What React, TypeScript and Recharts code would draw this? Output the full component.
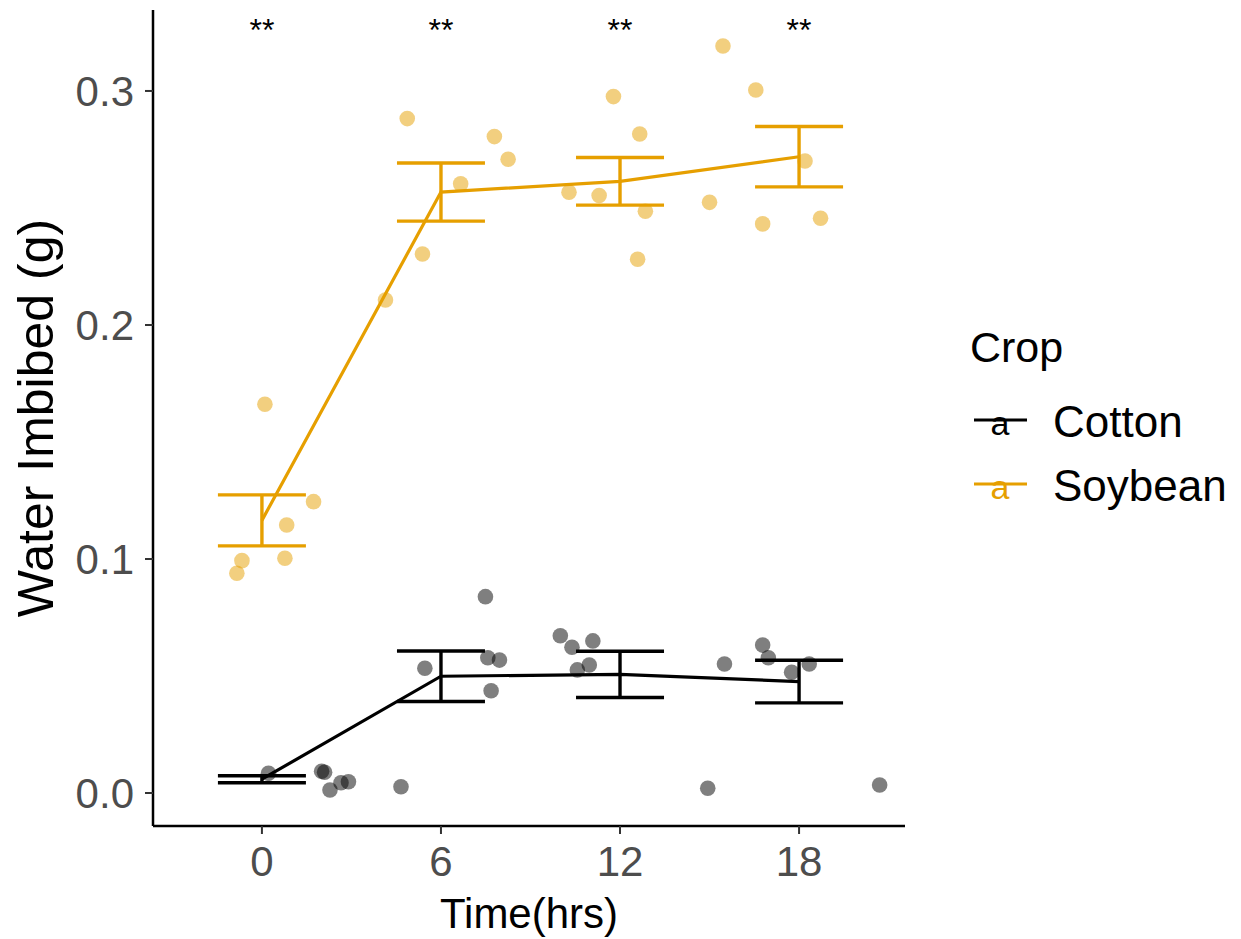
import { ComposedChart, Scatter, Line, ErrorBar, XAxis, YAxis } from "recharts";

const FONT = '"Liberation Sans", Arial, Helvetica, sans-serif';
const COTTON = "#000000";
const SOY = "#E69F00";

// sampling times and per-crop summaries (mean +/- se)
const times = [0, 6, 12, 18];
const cottonMean = [0.0059, 0.0499, 0.0507, 0.0476];
const cottonSe = [0.0015, 0.0108, 0.0099, 0.0091];
const soyMean = [0.1165, 0.2568, 0.2614, 0.2719];
const soySe = [0.0109, 0.0124, 0.0102, 0.0129];

// jittered raw observations
const cottonT = [0.22, 2.0, 2.1, 2.28, 2.65, 2.9, 4.66, 5.46, 7.49, 7.57, 7.68, 7.96, 10.0, 10.39, 10.57, 10.97, 11.09, 14.94, 15.5, 16.78, 16.97, 17.75, 18.34, 20.7];
const cottonV = [0.0084, 0.0093, 0.0089, 0.0013, 0.0044, 0.0048, 0.0027, 0.0533, 0.0839, 0.0578, 0.0437, 0.0568, 0.0672, 0.0623, 0.0526, 0.0547, 0.065, 0.002, 0.0551, 0.0632, 0.0578, 0.0516, 0.0551, 0.0034];
const soyT = [-0.84, -0.67, 0.1, 0.77, 0.83, 1.73, 4.14, 4.87, 5.38, 6.66, 7.79, 8.25, 10.29, 11.3, 11.78, 12.59, 12.66, 12.85, 15.0, 15.45, 16.55, 16.78, 18.2, 18.72];
const soyV = [0.0939, 0.0993, 0.1661, 0.1003, 0.1145, 0.1245, 0.2107, 0.2882, 0.2303, 0.2603, 0.2805, 0.2708, 0.2567, 0.2553, 0.2976, 0.2281, 0.2816, 0.2486, 0.2524, 0.3192, 0.3004, 0.2432, 0.2701, 0.2456];

// significance marks above each time point
const sigLabels = ["**", "**", "**", "**"];
const sigLevel = 0.329;

const yTicks = [0, 0.1, 0.2, 0.3];
const xTicks = [0, 6, 12, 18];

const crops = ["Cotton", "Soybean"];
const cropColors = [COTTON, SOY];

const meanRows = (m: number[], se: number[]) => times.map((t, i) => ({ t, v: m[i], se: se[i] }));
const pointRows = (ts: number[], vs: number[]) => ts.map((t, i) => ({ t, v: vs[i] }));
const sigRows = times.map((t, i) => ({ t, v: sigLevel, label: sigLabels[i] }));

const dot = (color: string) => (p: any) => (
  <circle cx={p.cx} cy={p.cy} r={7.8} fill={color} fillOpacity={0.5} />
);

const sigMark = (p: any) => (
  <text x={p.cx} y={p.cy + 18} textAnchor="middle" fontSize={32} fontFamily={FONT} fill="#000">
    {p.payload.label}
  </text>
);

const yTitle = (p: any) => {
  const vb = p.viewBox;
  const x = vb.x + 53;
  const y = vb.y + vb.height / 2;
  return (
    <text x={x} y={y} transform={`rotate(-90 ${x} ${y})`} textAnchor="middle" fontSize={50} fontFamily={FONT} fill="#000">
      Water Imbibed (g)
    </text>
  );
};

const xTitle = (p: any) => {
  const vb = p.viewBox;
  return (
    <text x={vb.x + vb.width / 2} y={vb.y + 102} textAnchor="middle" fontSize={42} fontFamily={FONT} fill="#000">
      Time(hrs)
    </text>
  );
};

export default function App() {
  return (
    <div style={{ position: "absolute", left: 0, top: 0, width: 1241, height: 939, background: "#fff" }}>
      <ComposedChart width={1241} height={939} margin={{ top: 10, right: 336, bottom: 0, left: 0 }}>
        <XAxis
          type="number"
          dataKey="t"
          domain={[-3.65, 21.55]}
          ticks={xTicks}
          allowDataOverflow
          height={113}
          tickSize={8}
          tickMargin={12}
          tick={{ fontSize: 42, fill: "#4D4D4D", fontFamily: FONT }}
          tickLine={{ stroke: "#333", strokeWidth: 2 }}
          axisLine={{ stroke: "#000", strokeWidth: 2.5 }}
          label={xTitle}
        />
        <YAxis
          type="number"
          dataKey="v"
          domain={[-0.0141, 0.3346]}
          ticks={yTicks}
          allowDataOverflow
          width={153}
          tickSize={8}
          tickMargin={11}
          tickFormatter={(v: number) => v.toFixed(1)}
          tick={{ fontSize: 42, fill: "#4D4D4D", fontFamily: FONT }}
          tickLine={{ stroke: "#333", strokeWidth: 2 }}
          axisLine={{ stroke: "#000", strokeWidth: 2.5 }}
          label={yTitle}
        />
        <Scatter data={pointRows(cottonT, cottonV)} shape={dot(COTTON)} isAnimationActive={false} />
        <Scatter data={pointRows(soyT, soyV)} shape={dot(SOY)} isAnimationActive={false} />
        <Line data={meanRows(cottonMean, cottonSe)} dataKey="v" type="linear" stroke={COTTON} strokeWidth={3.2} dot={false} activeDot={false} isAnimationActive={false}>
          <ErrorBar dataKey="se" direction="y" width={44} stroke={COTTON} strokeWidth={3.4} />
        </Line>
        <Line data={meanRows(soyMean, soySe)} dataKey="v" type="linear" stroke={SOY} strokeWidth={3.2} dot={false} activeDot={false} isAnimationActive={false}>
          <ErrorBar dataKey="se" direction="y" width={44} stroke={SOY} strokeWidth={3.4} />
        </Line>
        <Scatter data={sigRows} shape={sigMark} isAnimationActive={false} />
      </ComposedChart>
      <svg width={1241} height={939} style={{ position: "absolute", left: 0, top: 0, pointerEvents: "none" }}>
        <text x={970} y={362} fontSize={43} fontFamily={FONT} fill="#000">Crop</text>
        {crops.map((c, i) => {
          const y = 420 + i * 64;
          return (
            <g key={c}>
              <line x1={974} x2={1027} y1={y} y2={y} stroke={cropColors[i]} strokeWidth={3.2} />
              <text x={1000} y={y + 15} textAnchor="middle" fontSize={34} fontFamily={FONT} fill={cropColors[i]}>a</text>
              <text x={1053} y={y + 17} fontSize={44} fontFamily={FONT} fill="#000">{c}</text>
            </g>
          );
        })}
      </svg>
    </div>
  );
}
